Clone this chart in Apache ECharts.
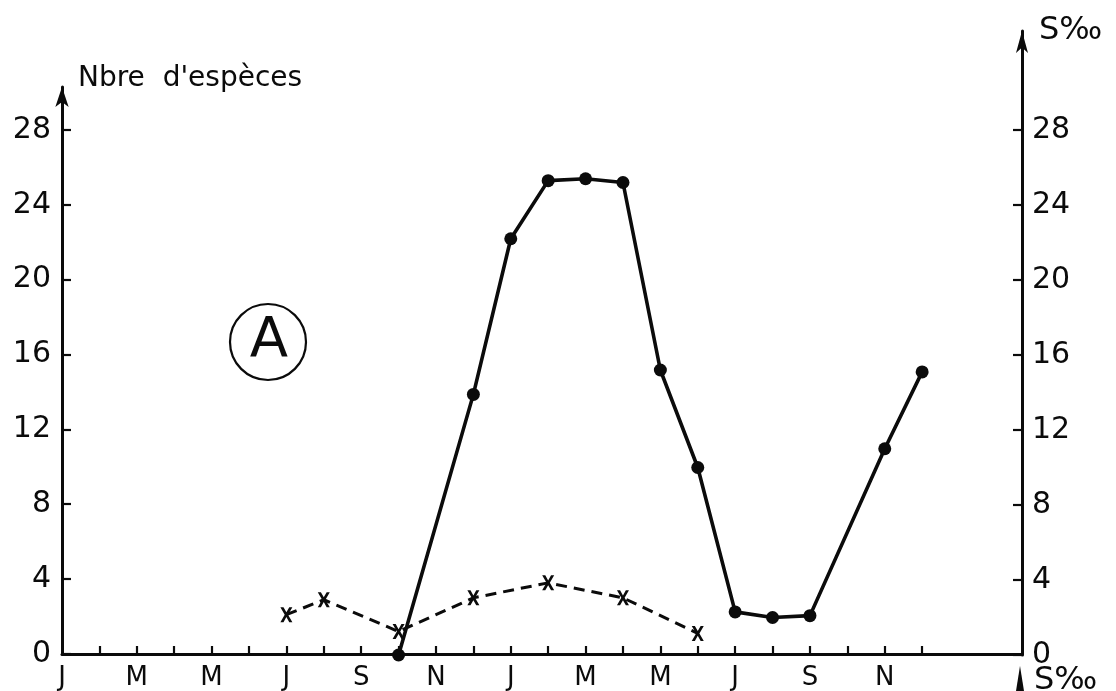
<!DOCTYPE html>
<html>
<head>
<meta charset="utf-8">
<script src="https://cdn.jsdelivr.net/npm/echarts@6/dist/echarts.min.js"></script>
<style>
  html, body { margin: 0; padding: 0; background: #fff; }
  #chart { width: 1116px; height: 691px; }
</style>
</head>
<body>
<div id="chart"></div>
<script>
// Month index 0 = January of the first year; ticks every month, labels every two months
const xTickMonths = [1,2,3,4,5,6,7,8,9,10,11,12,13,14,15,16,17,18,19,20,21,22,23];
const xLabelMonths = [0,2,4,6,8,10,12,14,16,18,20,22];
const xTickLabels = ['J','M','M','J','S','N','J','M','M','J','S','N'];
const yTickValues = [0,4,8,12,16,20,24,28];

// Salinity (S‰), solid line with dots, right axis
const salinityMonths = [9, 11, 12, 13, 14, 15, 16, 17, 18, 19, 20, 22, 23];
const salinity       = [0, 13.9, 22.2, 25.3, 25.4, 25.2, 15.2, 10.0, 2.3, 2.0, 2.1, 11.0, 15.1];

// Number of species, dashed line with crosses, left axis
const speciesMonths = [6, 7, 9, 11, 13, 15, 17];
const species       = [2.1, 2.9, 1.2, 3.0, 3.8, 3.0, 1.1];

const FONT = 'DejaVu Sans';
const INK = '#0b0b0b';
const X_MAX = 25.67;
const crossPath = 'path://M0,0L2.6,0L5,3.4L7.4,0L10,0L6.4,5L10,10L7.4,10L5,6.6L2.6,10L0,10L3.6,5Z';

const pairs = (xs, ys) => xs.map((x, i) => [x, ys[i]]);

const chart = echarts.init(document.getElementById('chart'), null, { renderer: 'canvas' });

chart.setOption({
  backgroundColor: '#ffffff',
  animation: false,
  grid: [
    { left: 62, right: 94, top: 87, bottom: 36 },
    { left: 62, right: 94, top: 31, bottom: 36 }
  ],
  xAxis: [
    {
      gridIndex: 0, type: 'value', min: 0, max: X_MAX,
      axisLine: { onZero: false, lineStyle: { color: INK, width: 3 } },
      axisTick: { inside: true, length: 8, customValues: xTickMonths, lineStyle: { color: INK, width: 2.2 } },
      axisLabel: {
        customValues: xLabelMonths, margin: 11, color: INK, fontFamily: FONT, fontSize: 26,
        formatter: v => xTickLabels[xLabelMonths.indexOf(Math.round(v))] || ''
      },
      splitLine: { show: false }
    },
    { gridIndex: 1, type: 'value', min: 0, max: X_MAX, show: false }
  ],
  yAxis: [
    {
      gridIndex: 0, type: 'value', min: 0, max: 30.29, position: 'left',
      name: "Nbre  d'espèces", nameLocation: 'end', nameGap: 8,
      nameTextStyle: { color: INK, fontFamily: FONT, fontSize: 28, align: 'left', verticalAlign: 'middle', padding: [0, 0, 0, 16] },
      axisLine: { show: true, onZero: false, symbol: ['none', 'arrow'], symbolSize: [10, 20], lineStyle: { color: INK, width: 3 } },
      axisTick: { show: true, inside: true, length: 9, customValues: yTickValues, lineStyle: { color: INK, width: 2.2 } },
      axisLabel: { customValues: yTickValues, margin: 11, color: INK, fontFamily: FONT, fontSize: 30 },
      splitLine: { show: false }
    },
    {
      gridIndex: 1, type: 'value', min: 0, max: 33.28, position: 'right',
      name: 'S‰', nameLocation: 'end', nameGap: 0,
      nameTextStyle: { color: INK, fontFamily: FONT, fontSize: 32, align: 'left', verticalAlign: 'middle', padding: [0, 0, 0, 17] },
      axisLine: { show: true, onZero: false, symbol: ['none', 'arrow'], symbolSize: [9, 22], lineStyle: { color: INK, width: 3 } },
      axisTick: { show: true, inside: true, length: 9, customValues: yTickValues, lineStyle: { color: INK, width: 2.2 } },
      axisLabel: { customValues: yTickValues, margin: 10, color: INK, fontFamily: FONT, fontSize: 30 },
      splitLine: { show: false }
    }
  ],
  series: [
    {
      name: 'S‰', type: 'line', xAxisIndex: 1, yAxisIndex: 1,
      data: pairs(salinityMonths, salinity),
      symbol: 'circle', symbolSize: 13, showSymbol: true,
      itemStyle: { color: INK },
      lineStyle: { color: INK, width: 3.6 },
      z: 3
    },
    {
      name: "Nbre d'espèces", type: 'line', xAxisIndex: 0, yAxisIndex: 0,
      data: pairs(speciesMonths, species),
      symbol: crossPath, symbolSize: [12, 15], showSymbol: true,
      itemStyle: { color: INK },
      lineStyle: { color: INK, width: 3, type: [11, 7] },
      z: 2
    }
  ],
  graphic: [
    { type: 'circle', shape: { cx: 268, cy: 342, r: 38 }, style: { fill: 'none', stroke: INK, lineWidth: 2.2 } },
    { type: 'text', x: 269, y: 341, style: { text: 'A', fill: INK, font: '56px "DejaVu Sans"', textAlign: 'center', textVerticalAlign: 'middle' } },
    { type: 'polygon', shape: { points: [[1020, 666], [1016, 691], [1024, 691]] }, style: { fill: INK } },
    { type: 'text', x: 1034, y: 665, style: { text: 'S‰', fill: INK, font: '32px "DejaVu Sans"', textAlign: 'left', textVerticalAlign: 'top' } }
  ]
});
</script>
</body>
</html>
